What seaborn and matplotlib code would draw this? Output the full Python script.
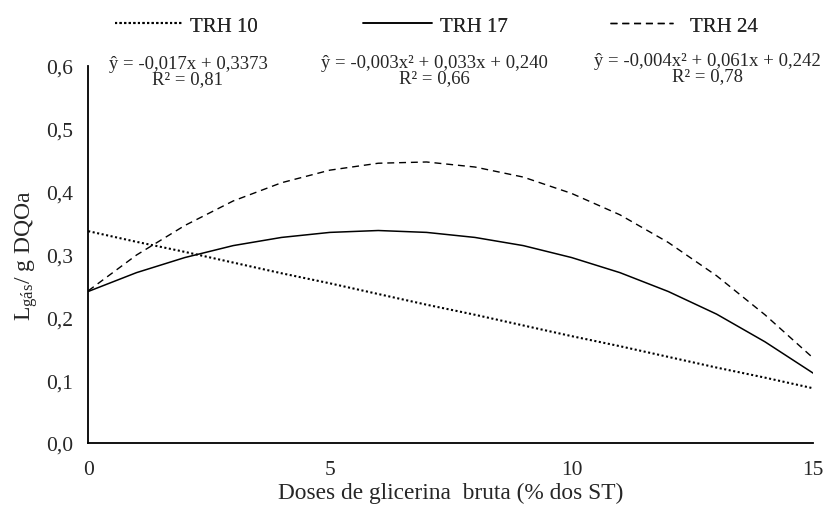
import pandas as pd
import matplotlib
matplotlib.use("Agg")
import matplotlib.pyplot as plt
import seaborn as sns

# --- values ---
doses = [0, 1, 2, 3, 4, 5, 6, 7, 8, 9, 10, 11, 12, 13, 14, 15]
trh10 = [0.337, 0.320, 0.304, 0.287, 0.270, 0.254, 0.237, 0.220,
         0.204, 0.187, 0.170, 0.154, 0.137, 0.120, 0.104, 0.087]
trh17 = [0.241, 0.271, 0.295, 0.314, 0.327, 0.335, 0.338, 0.335,
         0.327, 0.314, 0.295, 0.271, 0.241, 0.205, 0.161, 0.111]
trh24 = [0.242, 0.299, 0.346, 0.385, 0.414, 0.434, 0.445, 0.447,
         0.439, 0.423, 0.397, 0.363, 0.319, 0.266, 0.204, 0.135]
series_names = ["TRH 10", "TRH 17", "TRH 24"]
equations = ["ŷ = -0,017x + 0,3373\nR² = 0,81",
             "ŷ = -0,003x² + 0,033x + 0,240\nR² = 0,66",
             "ŷ = -0,004x² + 0,061x + 0,242\nR² = 0,78"]
y_ticks = [0.0, 0.1, 0.2, 0.3, 0.4, 0.5, 0.6]
x_ticks = [0, 5, 10, 15]

sns.set_style("white")
plt.rcParams["font.family"] = ["Liberation Serif", "DejaVu Serif"]
plt.rcParams["mathtext.fontset"] = "custom"
plt.rcParams["mathtext.rm"] = "Liberation Serif"
plt.rcParams["mathtext.it"] = "Liberation Serif:italic"

df = pd.DataFrame({"dose": doses * 3,
                   "valor": trh10 + trh17 + trh24,
                   "serie": [series_names[0]] * 16 + [series_names[1]] * 16 + [series_names[2]] * 16})

fig = plt.figure(figsize=(8.24, 5.06), dpi=100)
ax = fig.add_axes([0.107, 0.1225, 0.880, 0.7455])

styles = {"TRH 10": dict(lw=1.5, ls=(0, (1, 1.2))),
          "TRH 17": dict(lw=1.1, ls="-"),
          "TRH 24": dict(lw=1.0, ls=(0, (5, 3.5)))}
for name in series_names:
    sub = df[df["serie"] == name]
    sns.lineplot(data=sub, x="dose", y="valor", ax=ax, color="black",
                 label=name, linewidth=styles[name]["lw"], linestyle=styles[name]["ls"])

ax.set_xlim(0, 15)
ax.set_ylim(0, 0.6)
ax.set_xticks(x_ticks)
ax.set_xticklabels([str(t) for t in x_ticks], fontsize=15.5)
ax.set_yticks(y_ticks)
ax.set_yticklabels([f"{t:.1f}".replace(".", ",") for t in y_ticks], fontsize=15.5)
ax.tick_params(axis="x", length=0, pad=12)
ax.tick_params(axis="y", length=0, pad=11)
for s in ["top", "right"]:
    ax.spines[s].set_visible(False)
for s in ["left", "bottom"]:
    ax.spines[s].set_color("black")
    ax.spines[s].set_linewidth(1.3)

ax.set_xlabel("Doses de glicerina  bruta (% dos ST)", fontsize=16.8, labelpad=2)
ax.set_ylabel(r"L$_{\mathrm{gás}}$/ g DQOa", fontsize=17, labelpad=4)

# one legend entry per series, placed like the original header
handles, labels = ax.get_legend_handles_labels()
ax.get_legend().remove()
leg_x = [115, 363, 610]
leg_len = [3.27, 3.3, 3.0]
leg_pad = [0.34, 0.38, 0.85]
for h, lab, px, hl, tp in zip(handles, labels, leg_x, leg_len, leg_pad):
    leg = fig.legend([h], [lab], loc="center left", bbox_to_anchor=(px / 824, 0.947),
                     frameon=False, fontsize=15, handlelength=hl, handletextpad=tp,
                     borderpad=0, borderaxespad=0)
    fig.add_artist(leg)

eq_pos = [(188, 72), (434, 71), (707, 69)]
for (px, py), txt in zip(eq_pos, equations):
    fig.text(px / 824, 1 - py / 506, txt, ha="center", va="center",
             fontsize=13.5, linespacing=0.85)

plt.savefig("out.png", dpi=100)
